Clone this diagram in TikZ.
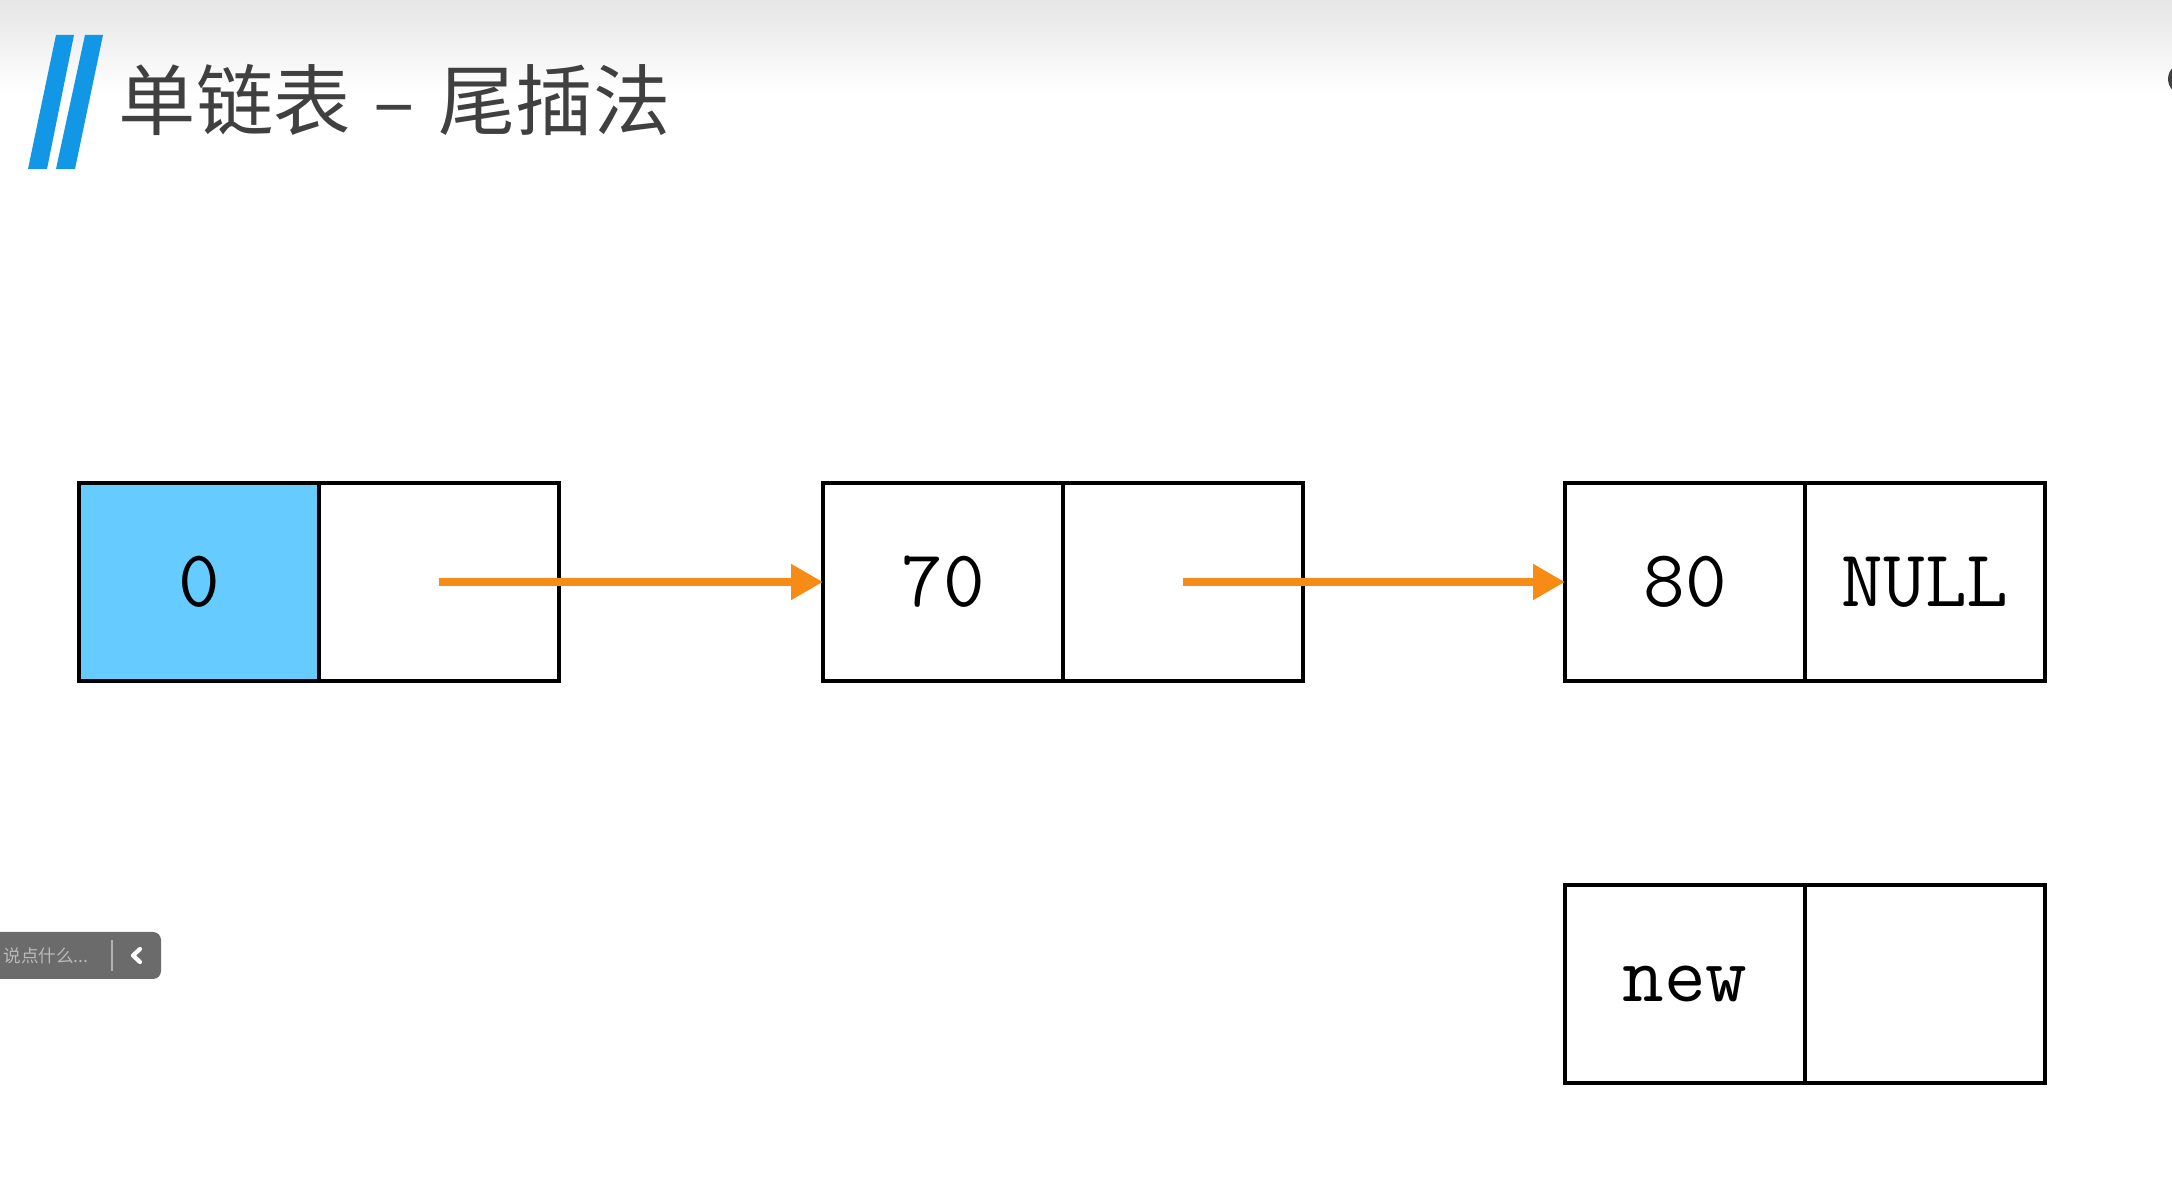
\documentclass[tikz,border=0pt]{standalone}
\usepackage{fontspec}
\newfontfamily\cjkfont{Noto Sans CJK SC}
\usetikzlibrary{arrows.meta}
\definecolor{headblue}{RGB}{102,204,255}
\definecolor{linkorange}{RGB}{246,139,22}
\definecolor{barblue}{RGB}{18,150,230}
\definecolor{titlegray}{RGB}{64,64,64}
\definecolor{chatgray}{RGB}{107,107,107}

\begin{document}
\begin{tikzpicture}[scale=1.0,
    cell/.style={draw, line width=0.9pt, minimum width=2.4cm, minimum height=1.98cm,
                 inner sep=0pt, outer sep=0pt, font=\ttfamily\fontsize{23}{23}\selectfont},
    link/.style={-{Triangle[length=0.32cm,width=0.34cm]}, line width=2.4pt, linkorange}]

            % Frame
            \clip (0,0) rectangle (21.72,11.84);
            \fill[white] (0,0) rectangle (21.72,11.84);
            \shade[top color=black!10, bottom color=white] (0,10.9) rectangle (21.72,11.84);

            % Title bars
            \fill[barblue] (0.56,11.49) -- (0.74,11.49) -- (0.47,10.15) -- (0.28,10.15) -- cycle;
            \fill[barblue] (0.85,11.49) -- (1.03,11.49) -- (0.75,10.15) -- (0.56,10.15) -- cycle;

            % Title
            \node[anchor=west, inner sep=0pt, text=titlegray,
                  font=\cjkfont\fontsize{22}{22}\selectfont] (title) at (1.18,10.84)
                  {单链表\hspace{0.3em}–\hspace{0.3em}尾插法};

            % Head node
            \node[cell, fill=headblue] (headdata) at (1.99,6.02) {0};
            \node[cell] (headnext) at (4.39,6.02) {};

            % Node 70
            \node[cell] (sevdata) at (9.43,6.02) {70};
            \node[cell] (sevnext) at (11.83,6.02) {};

            % Node 80
            \node[cell] (eigdata) at (16.85,6.02) {80};
            \node[cell] (eignext) at (19.25,6.02) {NULL};

            % New node
            \node[cell] (newdata) at (16.85,2.00) {new};
            \node[cell] (newnext) at (19.25,2.00) {};

            % Links
            \draw[link] (headnext.center) -- (sevdata.west);
            \draw[link] (sevnext.center) -- (eigdata.west);

            % Chat box
            \fill[chatgray, rounded corners=0.08cm] (-0.2,2.05) rectangle (1.61,2.52);
            \draw[gray!60, line width=0.6pt] (1.12,2.13) -- (1.12,2.44);
            \draw[white, line width=1.2pt, line cap=round, line join=round]
                (1.40,2.35) -- (1.33,2.285) -- (1.40,2.22);
            \node[anchor=west, inner sep=0pt, text=gray!55,
                  font=\cjkfont\fontsize{5}{5}\selectfont] (chat) at (0.03,2.285) {说点什么...};

            % Corner mark
            \fill[black!75] (21.84,11.05) circle (0.16);

\end{tikzpicture}
\end{document}
